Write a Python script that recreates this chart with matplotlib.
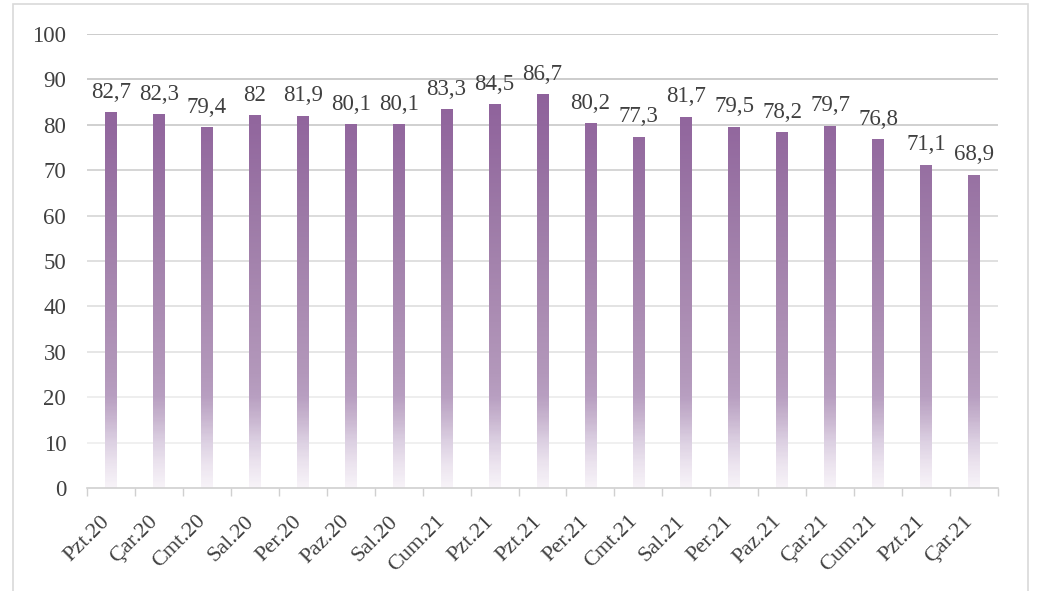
import numpy as np
import matplotlib.pyplot as plt
from matplotlib.colors import LinearSegmentedColormap
from matplotlib.patches import Rectangle
from matplotlib.transforms import ScaledTranslation

labels = ['Pzt.20', 'Çar.20', 'Cmt.20', 'Sal.20', 'Per.20', 'Paz.20', 'Sal.20',
          'Cum.21', 'Pzt.21', 'Pzt.21', 'Per.21', 'Cmt.21', 'Sal.21', 'Per.21',
          'Paz.21', 'Çar.21', 'Cum.21', 'Pzt.21', 'Çar.21']
values = [82.7, 82.3, 79.4, 82, 81.9, 80.1, 80.1, 83.3, 84.5, 86.7,
          80.2, 77.3, 81.7, 79.5, 78.2, 79.7, 76.8, 71.1, 68.9]
yticks = [0, 10, 20, 30, 40, 50, 60, 70, 80, 90, 100]

plt.rcParams['font.family'] = ['Liberation Serif', 'DejaVu Serif']
txt = '#404040'

# gradient by data height: near white at the bottom, purple at the top
cmap = LinearSegmentedColormap.from_list('grad', [
    (0.00, '#f7f3f8'),
    (0.05, '#ece4ef'),
    (0.10, '#dcd0e2'),
    (0.15, '#c9b6d0'),
    (0.20, '#b89fc1'),
    (0.25, '#b398bb'),
    (0.40, '#aa8bb2'),
    (0.60, '#9d7aa7'),
    (0.80, '#92679e'),
    (0.90, '#8d5f9a'),
    (1.00, '#8a5b98')])

fig = plt.figure(figsize=(10.45, 5.91), dpi=100)
ax = fig.add_axes([0.0833, 0.1743, 0.8717, 0.7682])

x = np.arange(len(values))
w = 0.245
grad = np.linspace(0, 1, 256).reshape(-1, 1)
for xi, v in zip(x, values):
    ax.imshow(grad * v / 100, cmap=cmap, vmin=0, vmax=1, aspect='auto',
              origin='lower', extent=[xi - w / 2, xi + w / 2, 0, v], zorder=2)
    ax.annotate(f'{v:g}'.replace('.', ','), (xi, v), xytext=(0, 7),
                textcoords='offset points', ha='center', va='bottom',
                fontsize=16.5, color=txt)

ax.set_xlim(-0.5, len(values) - 0.5)
ax.set_ylim(0, 100)
ax.set_yticks(yticks)
ax.set_yticklabels([str(t) for t in yticks], fontsize=16.5, color=txt)
ax.tick_params(axis='y', length=0, pad=15)

ax.set_xticks(x)
ax.set_xticklabels(labels, rotation=45, ha='right', va='center',
                   rotation_mode='anchor', fontsize=16, color=txt)
ax.tick_params(axis='x', which='major', length=0, pad=22)
shift = ScaledTranslation(-0.04, 0, fig.dpi_scale_trans)
for lab in ax.get_xticklabels():
    lab.set_transform(lab.get_transform() + shift)
ax.set_xticks(np.arange(-0.5, len(values)), minor=True)
ax.tick_params(axis='x', which='minor', length=6, color='#d0d0d0', width=1)

for s in ['top', 'right', 'left']:
    ax.spines[s].set_visible(False)
ax.spines['bottom'].set_color('#d0d0d0')
ax.spines['bottom'].set_linewidth(1.2)

grid_cols = ['#ffffff', '#eeeeee', '#ebebeb', '#e2e2e2', '#dedede', '#dadada',
             '#d5d5d5', '#cecece', '#c8c8c8', '#c4c4c4', '#c4c4c4']
for t, c in zip(yticks[1:], grid_cols[1:]):
    ax.axhline(t, color=c, lw=1.2, zorder=1)

fig.patches.append(Rectangle((13 / 1045, -0.01), 1015 / 1045, 1 - 4 / 591 + 0.01,
                             transform=fig.transFigure, fill=False,
                             edgecolor='#d9d9d9', lw=1.2))

fig.savefig('out.png', dpi=100)
